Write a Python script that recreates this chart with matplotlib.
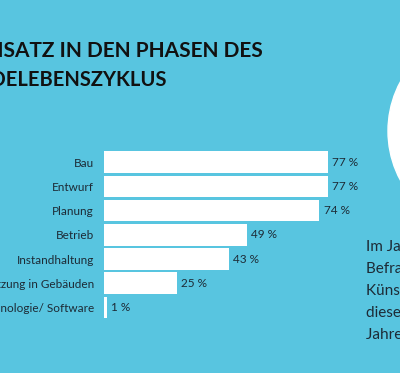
import matplotlib.pyplot as plt
from matplotlib.patches import Circle

phases = ["Bau", "Entwurf", "Planung", "Betrieb", "Instandhaltung",
          "Nutzung in Gebäuden", "Technologie/ Software"]
shares = [77, 77, 74, 49, 43, 25, 1]
value_labels = ["77 %", "77 %", "74 %", "49 %", "43 %", "25 %", "1 %"]
title_lines = ["KI-EINSATZ IN DEN PHASEN DES", "GEBÄUDELEBENSZYKLUS"]
side_text = ["Im Jahr 2023 wurden in einer", "Befragung die Einsatzfelder",
             "Künstlicher Intelligenz in", "diesen Phasen der letzten",
             "Jahre untersucht."]

bg = "#58c5e0"
ink = "#1d2b36"
plt.rcParams["font.family"] = ["Lato", "DejaVu Sans"]

W, H = 400, 373
fig = plt.figure(figsize=(W / 100, H / 100), dpi=100, facecolor=bg)

# white circle on the right edge
deco = fig.add_axes([0, 0, 1, 1])
deco.set_xlim(0, W)
deco.set_ylim(H, 0)
deco.axis("off")
deco.add_patch(Circle((492, 131), 104, color="white"))

# title, partly cut off on the left (the source is a crop)
fig.text(263 / W, 1 - 57 / H, title_lines[0], ha="right", va="baseline",
         fontsize=15.0, fontweight="bold", color="#111111")
fig.text(167 / W, 1 - 86 / H, title_lines[1], ha="right", va="baseline",
         fontsize=14.5, fontweight="bold", color="#111111")

# side text
for i, line in enumerate(side_text):
    fig.text(366 / W, 1 - (251 + 22 * i) / H, line, ha="left", va="baseline",
             fontsize=11, color=ink)

ax = fig.add_axes([104 / W, 1 - 319.6 / H, 291 / W, 169.6 / H])
ax.set_facecolor("none")
y = list(range(len(phases)))
bars = ax.barh(y, shares, height=0.89, color="white")
ax.set_xlim(0, 100)
ax.set_ylim(len(phases) - 0.5, -0.5)
ax.set_yticks(y)
ax.set_yticklabels(phases, fontsize=8.5, color=ink)
ax.tick_params(axis="y", length=0, pad=7.2)
ax.set_xticks([])
for s in ax.spines.values():
    s.set_visible(False)

for b, lab in zip(bars, value_labels):
    ax.annotate(lab, (b.get_width(), b.get_y() + b.get_height() / 2),
                xytext=(3, 0), textcoords="offset points",
                ha="left", va="center", fontsize=8.5, color=ink)

fig.savefig("out.png", dpi=100, facecolor=bg)
